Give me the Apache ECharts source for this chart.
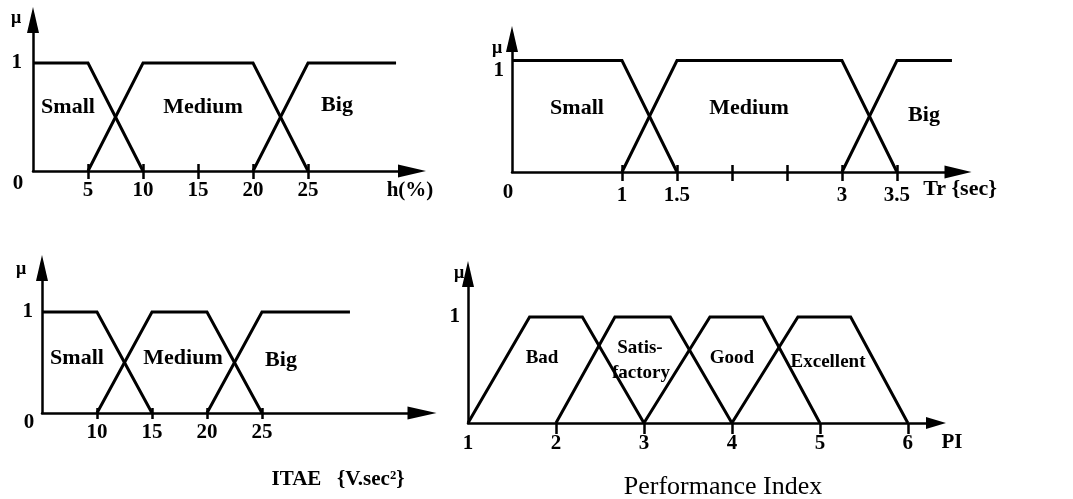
<!DOCTYPE html>
<html>
<head>
<meta charset="utf-8">
<script src="https://cdn.jsdelivr.net/npm/echarts@6/dist/echarts.min.js"></script>
<style>
  html, body { margin: 0; padding: 0; background: #fff; }
  #chart { width: 1073px; height: 499px; }
</style>
</head>
<body>
<div id="chart"></div>
<script>
// ---- Membership functions (x, mu) ----
// Overshoot h(%)
const hSmall  = [[0, 1], [5, 1], [10, 0]];
const hMedium = [[5, 0], [10, 1], [20, 1], [25, 0]];
const hBig    = [[20, 0], [25, 1], [33, 1]];
const hTicks  = [5, 10, 15, 20, 25];
const hLabels = [5, 10, 15, 20, 25];

// Rise time Tr (sec)
const trSmall  = [[0, 1], [1, 1], [1.5, 0]];
const trMedium = [[1, 0], [1.5, 1], [3, 1], [3.5, 0]];
const trBig    = [[3, 0], [3.5, 1], [4, 1]];
const trTicks  = [1, 1.5, 2, 2.5, 3, 3.5];
const trLabels = [1, 1.5, 3, 3.5];

// ITAE (V.sec^2)
const itaeSmall  = [[5, 1], [10, 1], [15, 0]];
const itaeMedium = [[10, 0], [15, 1], [20, 1], [25, 0]];
const itaeBig    = [[20, 0], [25, 1], [33, 1]];
const itaeTicks  = [10, 15, 20, 25];
const itaeLabels = [10, 15, 20, 25];

// Performance index PI
const piBad       = [[1, 0], [1.7, 1], [2.3, 1], [3, 0]];
const piSatisfy   = [[2, 0], [2.67, 1], [3.3, 1], [4, 0]];
const piGood      = [[3, 0], [3.75, 1], [4.35, 1], [5, 0]];
const piExcellent = [[4, 0], [4.75, 1], [5.35, 1], [6, 0]];
const piTicks  = [2, 3, 4, 5, 6];
const piLabels = [1, 2, 3, 4, 5, 6];

const muTicks = [1];

// ---- Styling ----
const SERIF = '"Liberation Serif", "Times New Roman", serif';
const INK = '#000';

const grids = [], xAxes = [], yAxes = [], series = [];

function addPanel(p) {
  const gi = grids.length;
  grids.push(Object.assign({ containLabel: false }, p.box));
  const lineStyle = { color: INK, width: 2.5 };
  const labelStyle = {
    color: INK, fontFamily: SERIF, fontSize: 21, fontWeight: 'bold',
    margin: p.labelMargin
  };
  const mainX = xAxes.length;
  xAxes.push({
    type: 'value', gridIndex: gi, min: p.xMin, max: p.xMax, position: 'bottom',
    splitLine: { show: false },
    axisLine: { show: true, onZero: false, lineStyle,
      symbol: ['none', 'triangle'], symbolSize: p.xArrow },
    axisTick: { show: true, customValues: p.ticks, inside: false, length: p.tickOut,
      lineStyle: { color: INK, width: 2.5 } },
    axisLabel: Object.assign({ show: true, customValues: p.labels,
      showMinLabel: true, showMaxLabel: true }, labelStyle)
  });
  if (p.tickIn) {
    // ticks that reach above the axis line as well
    xAxes.push({
      type: 'value', gridIndex: gi, min: p.xMin, max: p.xMax, position: 'bottom',
      splitLine: { show: false },
      axisLine: { show: false, onZero: false },
      axisTick: { show: true, customValues: p.ticks, inside: true, length: p.tickIn,
        lineStyle: { color: INK, width: 2.5 } },
      axisLabel: { show: false }
    });
  }
  const yi = yAxes.length;
  yAxes.push({
    type: 'value', gridIndex: gi, min: 0, max: p.yMax,
    splitLine: { show: false },
    axisLine: { show: true, onZero: false, lineStyle,
      symbol: ['none', 'triangle'], symbolSize: [12, 26] },
    axisTick: { show: false },
    axisLabel: Object.assign({ show: true, customValues: muTicks },
      labelStyle, { margin: p.yLabelMargin, verticalAlign: p.yLabelAlign || 'middle' })
  });
  p.sets.forEach(function (d) {
    series.push({
      type: 'line', xAxisIndex: mainX, yAxisIndex: yi, data: d,
      symbol: 'none', silent: true, animation: false, clip: false,
      lineStyle: { color: INK, width: 3, join: 'miter' }
    });
  });
}

addPanel({
  box: { left: 33, top: 20, width: 379, height: 151 },
  xMin: 0, xMax: 34.45, yMax: 1.398,
  ticks: hTicks, labels: hLabels, tickOut: 8, tickIn: 7, labelMargin: 9,
  yLabelMargin: 11, xArrow: [13, 28],
  sets: [hSmall, hMedium, hBig]
});
addPanel({
  box: { left: 512, top: 39, width: 446, height: 133 },
  xMin: 0, xMax: 4.055, yMax: 1.193,
  ticks: trTicks, labels: trLabels, tickOut: 9, tickIn: 7, labelMargin: 13,
  yLabelMargin: 8, yLabelAlign: 'top', xArrow: [13, 27],
  sets: [trSmall, trMedium, trBig]
});
addPanel({
  box: { left: 42, top: 268, width: 380, height: 145 },
  xMin: 5, xMax: 39.55, yMax: 1.436,
  ticks: itaeTicks, labels: itaeLabels, tickOut: 6, tickIn: 5, labelMargin: 9,
  yLabelMargin: 9, xArrow: [13, 29],
  sets: [itaeSmall, itaeMedium, itaeBig]
});
addPanel({
  box: { left: 468, top: 274, width: 468, height: 149 },
  xMin: 1, xMax: 6.32, yMax: 1.406,
  ticks: piTicks, labels: piLabels, tickOut: 11, tickIn: 0, labelMargin: 10,
  yLabelMargin: 8, xArrow: [12, 20],
  sets: [piBad, piSatisfy, piGood, piExcellent]
});

// ---- Text annotations ----
function txt(x, y, text, size, weight) {
  return {
    type: 'text', x: x, y: y, silent: true,
    style: {
      text: text, fill: INK,
      font: (weight || 'bold') + ' ' + (size || 21) + 'px ' + SERIF,
      align: 'center', verticalAlign: 'middle',
      textAlign: 'center', textVerticalAlign: 'middle'
    }
  };
}

const graphics = [
  // overshoot panel
  txt(16, 18, 'μ', 18), txt(18, 184, '0'), txt(410, 191, 'h(%)'),
  txt(68, 107, 'Small', 22), txt(203, 107, 'Medium', 22), txt(337, 105, 'Big', 22),
  // rise time panel
  txt(497, 48, 'μ', 18), txt(508, 193, '0'), txt(960, 189, 'Tr {sec}', 22),
  txt(577, 108, 'Small', 22), txt(749, 108, 'Medium', 22), txt(924, 115, 'Big', 22),
  // ITAE panel
  txt(21, 269, 'μ', 18), txt(29, 423, '0'), txt(338, 480, 'ITAE   {V.sec²}', 21),
  txt(77, 358, 'Small', 22), txt(183, 358, 'Medium', 22), txt(281, 360, 'Big', 22),
  // performance index panel
  txt(459, 273, 'μ', 18), txt(952, 443, 'PI'),
  txt(723, 487, 'Performance Index', 26, 'normal'),
  txt(542, 358, 'Bad', 19), txt(640, 348, 'Satis-', 19), txt(641, 373, 'factory', 19),
  txt(732, 358, 'Good', 19), txt(828, 362, 'Excellent', 19)
];

const chart = echarts.init(document.getElementById('chart'), null, { renderer: 'canvas' });
chart.setOption({
  animation: false,
  backgroundColor: '#fff',
  grid: grids,
  xAxis: xAxes,
  yAxis: yAxes,
  series: series,
  graphic: graphics
});
</script>
</body>
</html>
